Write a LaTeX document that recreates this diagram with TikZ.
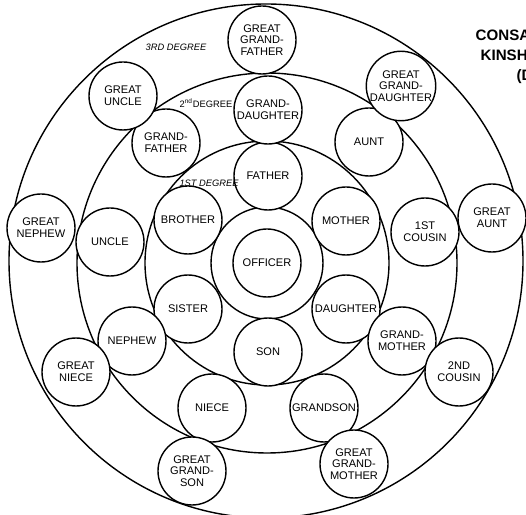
\documentclass[tikz,border=0pt]{standalone}
\usepackage{fontspec}
\setmainfont{Liberation Sans}
\begin{document}
\begin{tikzpicture}[x=0.2mm,y=-0.2mm,line width=0.8pt,
    kin/.style={draw,circle,fill=white,minimum size=13.6mm,inner sep=0pt,align=center,
        font=\fontsize{6.3}{6.7}\selectfont},
    ringlabel/.style={inner sep=0pt,font=\fontsize{5.3}{6}\selectfont},
    heading/.style={inner sep=0pt,anchor=base west,font=\bfseries\fontsize{8.6}{11}\selectfont}]
\useasboundingbox (0,0) rectangle (526,515);
\coordinate (centre) at (267,263);
% degree rings
\draw (266,261) circle (257);
\draw (centre) circle (190);
\draw (centre) circle (122);
\draw (centre) circle (56);
% officer
\node[kin] (officer) at (centre) {OFFICER};
% 1st degree
\node[kin] (father) at (268,176) {FATHER};
\node[kin] (mother) at (346,221) {MOTHER};
\node[kin] (daughter) at (346,309) {DAUGHTER};
\node[kin] (son) at (268,352) {SON};
\node[kin] (sister) at (188,309) {SISTER};
\node[kin] (brother) at (188,220) {BROTHER};
% 2nd degree
\node[kin] (granddaughter) at (268,110) {GRAND-\\DAUGHTER};
\node[kin] (aunt) at (369,142) {AUNT};
\node[kin] (firstcousin) at (425,232) {1ST\\COUSIN};
\node[kin] (grandmother) at (402,341) {GRAND-\\MOTHER};
\node[kin] (grandson) at (324,408) {GRANDSON};
\node[kin] (niece) at (212,408) {NIECE};
\node[kin] (nephew) at (132,341) {NEPHEW};
\node[kin] (uncle) at (110,242) {UNCLE};
\node[kin] (grandfather) at (166,143) {GRAND-\\FATHER};
% 3rd degree
\node[kin] (greatgrandfather) at (262,40) {GREAT\\GRAND-\\FATHER};
\node[kin] (greatgranddaughter) at (401,86) {GREAT\\GRAND-\\DAUGHTER};
\node[kin] (greataunt) at (492,218) {GREAT\\AUNT};
\node[kin] (secondcousin) at (459,372) {2ND\\COUSIN};
\node[kin] (greatgrandmother) at (354,464) {GREAT\\GRAND-\\MOTHER};
\node[kin] (greatgrandson) at (192,471) {GREAT\\GRAND-\\SON};
\node[kin] (greatniece) at (76,372) {GREAT\\NIECE};
\node[kin] (greatnephew) at (41,228) {GREAT\\NEPHEW};
\node[kin] (greatuncle) at (123,96) {GREAT\\UNCLE};
% ring names, over the circles
\node[ringlabel] (third) at (176,47) {\itshape 3RD DEGREE};
\node[ringlabel] (second) at (206,103) {2\textsuperscript{nd}DEGREE};
\node[ringlabel] (first) at (209,183) {\itshape 1ST DEGREE};
% title, cut by the right edge
\node[heading] (titleA) at (475,41) {CONSANGUINITY};
\node[heading] (titleB) at (480,61) {KINSHIP CHART};
\node[heading] (titleC) at (516,81) {(DEGREE)};
\end{tikzpicture}
\end{document}
